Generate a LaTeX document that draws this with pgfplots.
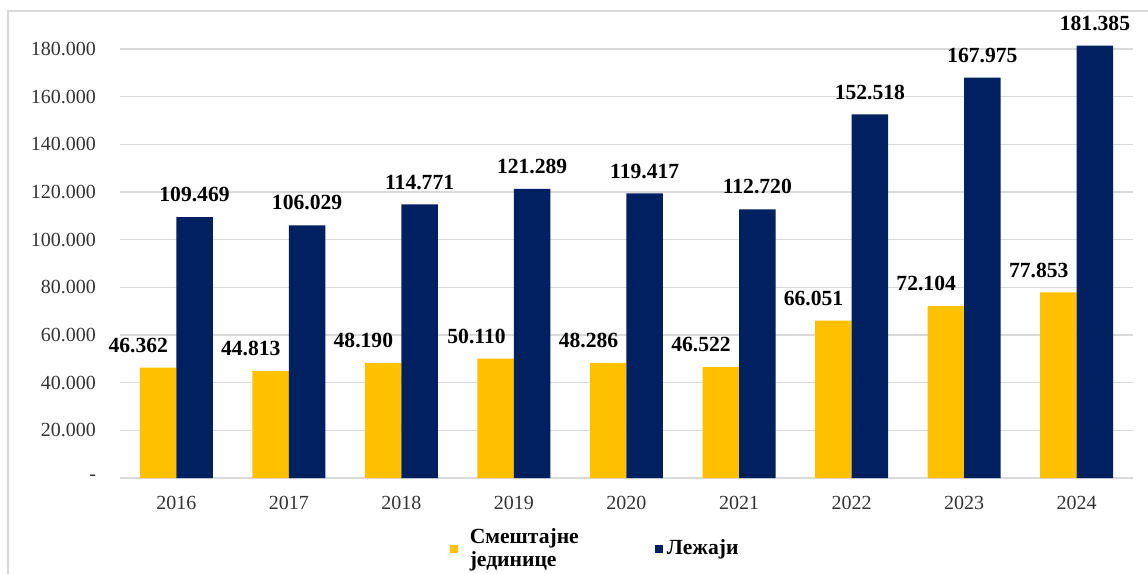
\documentclass[border=0pt]{standalone}
\usepackage{fontspec}
\setmainfont{Liberation Serif}
\usepackage{pgfplots}
\pgfplotsset{compat=1.18}

\definecolor{smyellow}{HTML}{FFC000}
\definecolor{smnavy}{HTML}{002060}
\definecolor{gridgray}{HTML}{D9D9D9}

\begin{document}
\begin{tikzpicture}
\useasboundingbox (0,0) rectangle (574pt,287pt);
\draw[gridgray, line width=1pt] (4pt,0) -- (4pt,281.5pt) -- (574pt,281.5pt);
\begin{axis}[
    at={(60pt,48pt)}, anchor=south west,
    scale only axis,
    width=506.5pt, height=214.5pt,
    ybar=0pt,
    bar width=18.25pt,
    xmin=-0.5, xmax=8.5,
    ymin=0, ymax=180000,
    clip=false,
    scaled y ticks=false,
    xtick={0,...,8},
    xticklabels={2016,2017,2018,2019,2020,2021,2022,2023,2024},
    ytick={0,20000,...,180000},
    yticklabels={{-}\hspace{6pt},20.000,40.000,60.000,80.000,100.000,120.000,140.000,160.000,180.000},
    ymajorgrids,
    major grid style={gridgray, line width=0.6pt},
    axis line style={draw=none},
    major tick length=0pt,
    ticklabel style={font=\fontsize{10}{12}\selectfont, text=black!80},
    yticklabel style={xshift=-8.5pt},
    xticklabel style={yshift=-5.5pt},
    /pgf/number format/assume math mode=true,
    nodes near coords={\pgfmathprintnumber[fixed,precision=0,1000 sep={.}]{\pgfplotspointmeta}},
    every node near coord/.append style={font=\fontsize{10.8}{13}\selectfont\bfseries, text=black, yshift=4pt},
    legend style={at={(0.47,-0.165)}, anchor=center, draw=none,
        font=\fontsize{10.8}{11.5}\selectfont\bfseries,
        cells={align=left},
        /tikz/every even column/.append style={column sep=36pt}},
    legend columns=2,
    legend image code/.code={\path[#1,draw=none] (0pt,-2pt) rectangle (4pt,2pt);},
]
\addplot[fill=smyellow, draw=none,
    every node near coord/.append style={anchor=south east, xshift=8.5pt}]
    coordinates {(0,46362) (1,44813) (2,48190) (3,50110) (4,48286) (5,46522) (6,66051) (7,72104) (8,77853)};
\addlegendentry{\hspace{4pt}Смештајне\\\hspace{4pt}јединице}
\addplot[fill=smnavy, draw=none]
    coordinates {(0,109469) (1,106029) (2,114771) (3,121289) (4,119417) (5,112720) (6,152518) (7,167975) (8,181385)};
\addlegendentry{Лежаји}
\end{axis}
\end{tikzpicture}
\end{document}
